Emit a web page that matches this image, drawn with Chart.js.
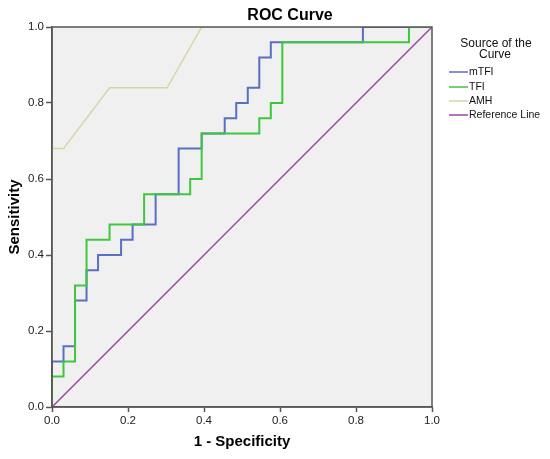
<!DOCTYPE html>
<html>
<head>
<meta charset="utf-8">
<script src="https://cdn.jsdelivr.net/npm/chart.js@4.4.1/dist/chart.umd.min.js"></script>
<style>
  html, body { margin: 0; padding: 0; background: #ffffff; }
  #wrap { width: 550px; height: 459px; position: relative; }
</style>
</head>
<body>
<div id="wrap"><canvas id="c" width="550" height="459"></canvas></div>
<script>
// ---- data ----
const xTicks = [0.0, 0.2, 0.4, 0.6, 0.8, 1.0];
const yTicks = [0.0, 0.2, 0.4, 0.6, 0.8, 1.0];

// ROC operating points (stepped: vertical rise at previous x, then horizontal)
const mtfiX = [0, 0.0303, 0.0606, 0.0909, 0.1212, 0.1818, 0.2121, 0.2727, 0.3333, 0.3939, 0.4545, 0.4848, 0.5152, 0.5455, 0.5758, 0.8182, 1.0];
const mtfiY = [0, 0.12, 0.16, 0.28, 0.36, 0.40, 0.44, 0.48, 0.56, 0.68, 0.72, 0.76, 0.80, 0.84, 0.92, 0.96, 1.0];

const tfiX = [0, 0.0303, 0.0606, 0.0909, 0.1515, 0.2424, 0.3636, 0.3939, 0.5455, 0.5758, 0.6061, 0.9394, 1.0];
const tfiY = [0, 0.08, 0.12, 0.32, 0.44, 0.48, 0.56, 0.60, 0.72, 0.76, 0.80, 0.96, 1.0];

// AMH curve vertices (ties give diagonal segments)
const amhX = [0, 0, 0.0303, 0.1515, 0.3030, 0.3939, 1.0];
const amhY = [0, 0.68, 0.68, 0.84, 0.84, 1.0, 1.0];

const refX = [0, 1];
const refY = [0, 1];

const seriesLabels = ['mTFI', 'TFI', 'AMH', 'Reference Line'];
const seriesColors = ['#5a6ec2', '#3ec73e', '#d8d4a4', '#9b45a6'];

const chartTitle = 'ROC Curve';
const xTitle = '1 - Specificity';
const yTitle = 'Sensitivity';
const legendTitle = ['Source of the', 'Curve'];

function pts(xs, ys) { return xs.map((x, i) => ({ x: x, y: ys[i] })); }

const FONT = '"Liberation Sans", Arial, sans-serif';
const FRAME = '#555555';

const bgPlugin = {
  id: 'bg',
  beforeDraw(chart) {
    const { ctx, chartArea: a } = chart;
    ctx.save();
    ctx.fillStyle = '#f0f0f0';
    ctx.fillRect(a.left, a.top, a.right - a.left, a.bottom - a.top);
    ctx.restore();
  },
  afterDraw(chart) {
    const { ctx, chartArea: a } = chart;
    ctx.save();
    // frame on top of the curves
    ctx.strokeStyle = FRAME;
    ctx.lineWidth = 1.5;
    ctx.beginPath();
    ctx.moveTo(a.left, a.bottom);
    ctx.lineTo(a.left, a.top);
    ctx.lineTo(a.right, a.top);
    ctx.lineTo(a.right, a.bottom);
    ctx.lineTo(a.left, a.bottom);
    ctx.stroke();
    // title
    ctx.fillStyle = '#000';
    ctx.font = 'bold 16px ' + FONT;
    ctx.textAlign = 'center';
    ctx.textBaseline = 'alphabetic';
    ctx.fillText(chartTitle, 290, 20);
    // legend
    ctx.font = '12px ' + FONT;
    ctx.fillStyle = '#111';
    ctx.fillText(legendTitle[0], 496, 47);
    ctx.fillText(legendTitle[1], 495, 58);
    ctx.textAlign = 'left';
    ctx.textBaseline = 'middle';
    ctx.font = '10.5px ' + FONT;
    const ys = [72, 87, 101, 115];
    chart.data.datasets.forEach((ds, i) => {
      ctx.strokeStyle = ds.borderColor;
      ctx.lineWidth = 1.5;
      ctx.beginPath();
      ctx.moveTo(449, ys[i]);
      ctx.lineTo(468, ys[i]);
      ctx.stroke();
      ctx.fillStyle = '#111';
      ctx.fillText(ds.label, 469, ys[i] + 0.5);
    });
    ctx.restore();
  }
};

new Chart(document.getElementById('c'), {
  type: 'scatter',
  data: {
    datasets: [
      { label: seriesLabels[0], data: pts(mtfiX, mtfiY), borderColor: seriesColors[0], backgroundColor: seriesColors[0],
        showLine: true, stepped: 'after', borderWidth: 2, pointRadius: 0, order: 3 },
      { label: seriesLabels[1], data: pts(tfiX, tfiY), borderColor: seriesColors[1], backgroundColor: seriesColors[1],
        showLine: true, stepped: 'after', borderWidth: 2, pointRadius: 0, order: 2 },
      { label: seriesLabels[2], data: pts(amhX, amhY), borderColor: seriesColors[2], backgroundColor: seriesColors[2],
        showLine: true, borderWidth: 1.5, pointRadius: 0, order: 4 },
      { label: seriesLabels[3], data: pts(refX, refY), borderColor: seriesColors[3], backgroundColor: seriesColors[3],
        showLine: true, borderWidth: 1.5, pointRadius: 0, order: 1 }
    ]
  },
  options: {
    responsive: false,
    animation: false,
    devicePixelRatio: 1,
    layout: { padding: { top: 27, right: 118, left: 0, bottom: 0 } },
    plugins: { legend: { display: false }, title: { display: false }, tooltip: { enabled: false } },
    scales: {
      x: {
        type: 'linear', min: 0, max: 1,
        afterBuildTicks(s) { s.ticks = xTicks.map(v => ({ value: v })); },
        afterFit(s) { s.height = 52; },
        ticks: { callback: v => Number(v).toFixed(1), font: { size: 11.5, family: FONT }, color: '#222', padding: 2, maxRotation: 0 },
        grid: { drawOnChartArea: false, drawTicks: true, tickLength: 5, tickColor: FRAME, tickWidth: 1.5 },
        border: { display: true, color: FRAME, width: 1.5 },
        title: { display: true, text: xTitle, font: { size: 15, weight: 'bold', family: FONT }, color: '#000', padding: { top: 0, bottom: 8 } }
      },
      y: {
        type: 'linear', min: 0, max: 1,
        afterBuildTicks(s) { s.ticks = yTicks.map(v => ({ value: v })); },
        afterFit(s) { s.width = 52; },
        ticks: { callback: v => Number(v).toFixed(1), font: { size: 11.5, family: FONT }, color: '#222', padding: 2 },
        grid: { drawOnChartArea: false, drawTicks: true, tickLength: 6, tickColor: FRAME, tickWidth: 1.5 },
        border: { display: true, color: FRAME, width: 1.5 },
        title: { display: true, text: yTitle, font: { size: 15, weight: 'bold', family: FONT }, color: '#000', padding: { top: 6, bottom: 0 } }
      }
    }
  },
  plugins: [bgPlugin]
});
</script>
</body>
</html>
